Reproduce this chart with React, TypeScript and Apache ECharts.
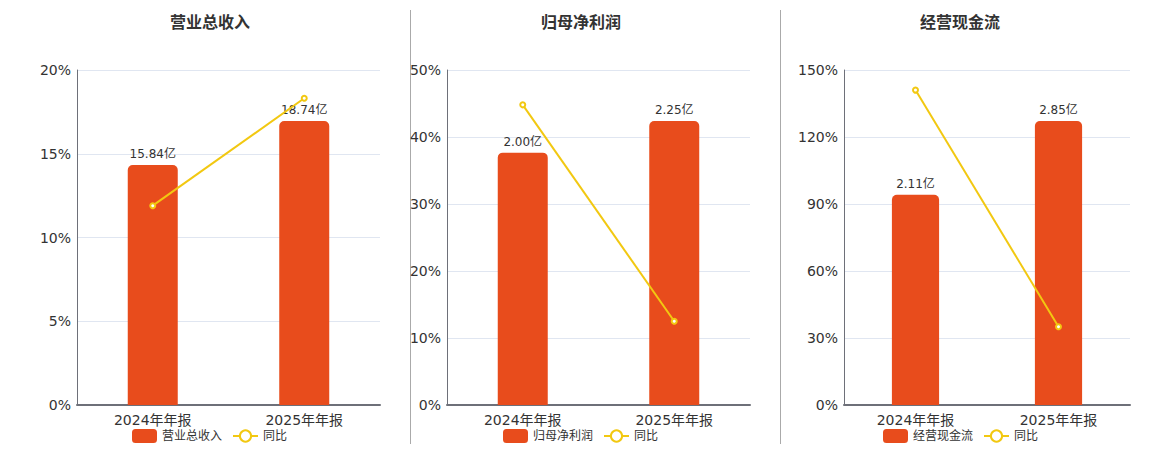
import React, { useEffect, useRef } from "react";
import * as echarts from "echarts";

const categories = ["2024年年报", "2025年年报"];
const titles = ["营业总收入", "归母净利润", "经营现金流"];
const barValues = [
  [15.84, 18.74],
  [2.0, 2.25],
  [2.11, 2.85],
];
const yoyValues = [
  [11.9, 18.31],
  [44.8, 12.5],
  [141.0, 35.07],
];
const pctMax = [20, 50, 150];
const pctInterval = [5, 10, 30];

const BAR_COLOR = "#E84C1C";
const LINE_COLOR = "#F2C811";
const FONT = "'DejaVu Sans', 'Noto Sans CJK SC', sans-serif";

const gridLefts = [69, 439, 836];
const gridWidths = [303, 303, 286];
const titleCenters = [197, 568, 947];
const legendLefts = [119, 490, 870];

export default function App() {
  const ref = useRef<HTMLDivElement>(null);
  useEffect(() => {
    if (!ref.current) return;
    const chart = echarts.init(ref.current, undefined, { renderer: "svg" });
    const grid: any[] = [];
    const xAxis: any[] = [];
    const yAxis: any[] = [];
    const series: any[] = [];
    const title: any[] = [];
    const legend: any[] = [];
    for (let i = 0; i < 3; i++) {
      grid.push({ left: gridLefts[i], top: 62, width: gridWidths[i], height: 335 });
      xAxis.push({
        type: "category",
        gridIndex: i,
        data: categories,
        axisLine: { lineStyle: { color: "#6E7079", width: 2 } },
        axisTick: { lineStyle: { color: "#6E7079" } },
        axisLabel: { color: "#333", fontSize: 14, margin: 8, fontFamily: FONT },
      });
      yAxis.push({
        type: "value",
        gridIndex: i,
        min: 0,
        max: pctMax[i],
        interval: pctInterval[i],
        axisLine: { show: true, lineStyle: { color: "#6E7079" } },
        axisTick: { show: false },
        axisLabel: { color: "#333", fontSize: 14, margin: 6, formatter: "{value}%", fontFamily: FONT },
        splitLine: { lineStyle: { color: "#E0E6F1" } },
      });
      yAxis.push({
        type: "value",
        gridIndex: i,
        min: 0,
        max: (v: any) => v.max * 1.18,
        show: false,
        splitLine: { show: false },
      });
      series.push({
        name: titles[i],
        type: "bar",
        xAxisIndex: i,
        yAxisIndex: i * 2 + 1,
        data: barValues[i],
        barWidth: "33%",
        itemStyle: { color: BAR_COLOR, borderRadius: [5, 5, 0, 0] },
        label: {
          show: true,
          position: "top",
          color: "#333",
          fontSize: 12,
          fontFamily: FONT,
          formatter: (p: any) => p.value.toFixed(2) + "亿",
        },
        z: 2,
      });
      series.push({
        name: "同比",
        type: "line",
        xAxisIndex: i,
        yAxisIndex: i * 2,
        data: yoyValues[i],
        symbol: "emptyCircle",
        symbolSize: 5,
        lineStyle: { color: LINE_COLOR, width: 2 },
        itemStyle: { color: LINE_COLOR },
        z: 3,
      });
      title.push({
        text: titles[i],
        left: titleCenters[i],
        textAlign: "center",
        top: 1,
        textStyle: { fontSize: 16, fontWeight: "bold", color: "#333", fontFamily: FONT },
      });
      legend.push({
        left: legendLefts[i],
        top: 416,
        itemWidth: 25,
        itemHeight: 14,
        itemGap: 10,
        data: [titles[i], "同比"],
        textStyle: { color: "#333", fontSize: 12, fontFamily: FONT },
      });
    }
    chart.setOption({
      animation: false,
      textStyle: { fontFamily: FONT },
      title,
      legend,
      grid,
      xAxis,
      yAxis,
      series,
      graphic: [
        { type: "line", shape: { x1: 402.5, y1: 2, x2: 402.5, y2: 436 }, style: { stroke: "#aaa", lineWidth: 1 } },
        { type: "line", shape: { x1: 772.5, y1: 2, x2: 772.5, y2: 436 }, style: { stroke: "#aaa", lineWidth: 1 } },
      ],
    });
    return () => chart.dispose();
  }, []);
  return <div ref={ref} style={{ width: 1144, height: 442 }} />;
}
